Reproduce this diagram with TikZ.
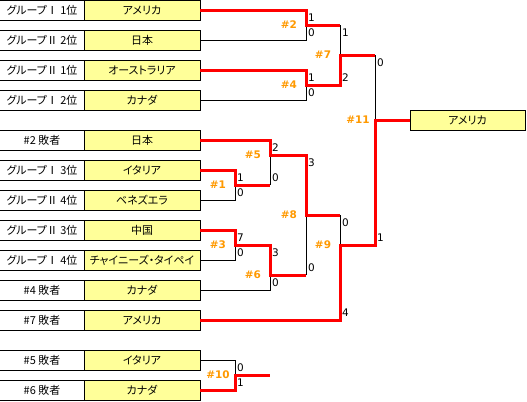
\documentclass[tikz,border=0pt]{standalone}
\usepackage{fontspec}
\setmainfont{Noto Sans CJK JP}[RawFeature=+palt]
\newfontfamily\scorefont{DejaVu Sans}
\usetikzlibrary{positioning}
\definecolor{teamyellow}{HTML}{FFFF99}
\definecolor{matchorange}{HTML}{FF9900}
\definecolor{winred}{HTML}{FF0000}
\tikzset{
  seed/.style={draw, line width=1bp, minimum width=84bp, minimum height=20bp,
    inner sep=0pt, outer sep=0pt, font=\fontsize{11}{13}\selectfont},
  team/.style={seed, fill=teamyellow, minimum width=116bp},
  win/.style={draw=winred, line width=3bp},
  lose/.style={draw=black, line width=1bp},
  score/.style={anchor=west, inner sep=0pt, font=\scorefont\fontsize{10.5}{12}\selectfont},
  match/.style={inner sep=0pt, text=matchorange, font=\scorefont\bfseries\fontsize{10.5}{12}\selectfont},
}

\begin{document}
\begin{tikzpicture}[x=1bp, y=-1bp]
  \useasboundingbox (0,0) rectangle (527,401);

  % entries
  \node[seed] (s1) at (42,10) {グループⅠ 1位};
  \node[team, right=0pt of s1] (t1) {アメリカ};
  \node[seed] (s2) at (42,40) {グループⅡ 2位};
  \node[team, right=0pt of s2] (t2) {日本};
  \node[seed] (s3) at (42,70) {グループⅡ 1位};
  \node[team, right=0pt of s3] (t3) {オーストラリア};
  \node[seed] (s4) at (42,100) {グループⅠ 2位};
  \node[team, right=0pt of s4] (t4) {カナダ};
  \node[seed] (s5) at (42,140) {\#2 敗者};
  \node[team, right=0pt of s5] (t5) {日本};
  \node[seed] (s6) at (42,170) {グループⅠ 3位};
  \node[team, right=0pt of s6] (t6) {イタリア};
  \node[seed] (s7) at (42,200) {グループⅡ 4位};
  \node[team, right=0pt of s7] (t7) {ベネズエラ};
  \node[seed] (s8) at (42,230) {グループⅡ 3位};
  \node[team, right=0pt of s8] (t8) {中国};
  \node[seed] (s9) at (42,260) {グループⅠ 4位};
  \node[team, right=0pt of s9] (t9) {チャイニーズ・タイペイ};
  \node[seed] (s10) at (42,290) {\#4 敗者};
  \node[team, right=0pt of s10] (t10) {カナダ};
  \node[seed] (s11) at (42,320) {\#7 敗者};
  \node[team, right=0pt of s11] (t11) {アメリカ};
  \node[seed] (s12) at (42,360) {\#5 敗者};
  \node[team, right=0pt of s12] (t12) {イタリア};
  \node[seed] (s13) at (42,390) {\#6 敗者};
  \node[team, right=0pt of s13] (t13) {カナダ};

  % junctions
  \coordinate (j1) at (235,185);
  \coordinate (j2) at (306,25);
  \coordinate (j3) at (235,245);
  \coordinate (j4) at (306,85);
  \coordinate (j5) at (270,155);
  \coordinate (j6) at (270,275);
  \coordinate (j7) at (340,55);
  \coordinate (j8) at (306,215);
  \coordinate (j9) at (340,245);
  \coordinate (j10) at (235,375);
  \coordinate (j11) at (375,120);
  \coordinate (end10) at (270,375);

  \node[team, minimum width=115bp, right=35bp of j11] (champ) {アメリカ};

  % losing lines
  \draw[lose] (t2.east) -| (j2);
  \draw[lose] (t4.east) -| (j4);
  \draw[lose] (j2 -| j7) -- (j7);
  \draw[lose] (t7.east) -| (j1);
  \draw[lose] (j1 -| j5) -- (j5);
  \draw[lose] (t9.east) -| (j3);
  \draw[lose] (t10.east) -| (j6);
  \draw[lose] (j6 -| j8) -- (j8);
  \draw[lose] (j8 -| j9) -- (j9);
  \draw[lose] (j7 -| j11) -- (j11);
  \draw[lose] (t12.east) -| (j10);

  % winning lines
  \draw[win] (t1.east) -| (j2) -- (j2 -| j7);
  \draw[win] (t3.east) -| (j4) -- (j4 -| j7) -- (j7) -- (j7 -| j11);
  \draw[win] (t6.east) -| (j1) -- (j1 -| j5);
  \draw[win] (t5.east) -| (j5) -- (j5 -| j8) -- (j8) -- (j8 -| j9);
  \draw[win] (t8.east) -| (j3) -- (j3 -| j6) -- (j6) -- (j6 -| j8);
  \draw[win] (t11.east) -| (j9) -- (j9 -| j11) -- (j11) -- (champ.west);
  \draw[win] (t13.east) -| (j10) -- (end10);

  % match numbers
  \node[match] (m1) at (218,185) {\#1};
  \node[match] (m2) at (289,25) {\#2};
  \node[match] (m3) at (218,245) {\#3};
  \node[match] (m4) at (289,85) {\#4};
  \node[match] (m5) at (253,155) {\#5};
  \node[match] (m6) at (253,275) {\#6};
  \node[match] (m7) at (323,55) {\#7};
  \node[match] (m8) at (289,215) {\#8};
  \node[match] (m9) at (323,245) {\#9};
  \node[match] (m10) at (218,375) {\#10};
  \node[match] (m11) at (358,120) {\#11};

  % scores
  \node[score] (r2a) at (308,17.5) {1};
  \node[score] (r2b) at (308,32.5) {0};
  \node[score] (r4a) at (308,77.5) {1};
  \node[score] (r4b) at (308,92.5) {0};
  \node[score] (r7a) at (342,32.5) {1};
  \node[score] (r7b) at (342,77.5) {2};
  \node[score] (r11a) at (377,62.5) {0};
  \node[score] (r11b) at (377,237.5) {1};
  \node[score] (r1a) at (237,177.5) {1};
  \node[score] (r1b) at (237,192.5) {0};
  \node[score] (r5a) at (272,147.5) {2};
  \node[score] (r5b) at (272,177.5) {0};
  \node[score] (r3a) at (237,237.5) {7};
  \node[score] (r3b) at (237,252.5) {0};
  \node[score] (r6a) at (272,252.5) {3};
  \node[score] (r6b) at (272,282.5) {0};
  \node[score] (r8a) at (308,162.5) {3};
  \node[score] (r8b) at (308,267.5) {0};
  \node[score] (r9a) at (342,222.5) {0};
  \node[score] (r9b) at (342,312.5) {4};
  \node[score] (r10a) at (237,367.5) {0};
  \node[score] (r10b) at (237,382.5) {1};
\end{tikzpicture}
\end{document}
